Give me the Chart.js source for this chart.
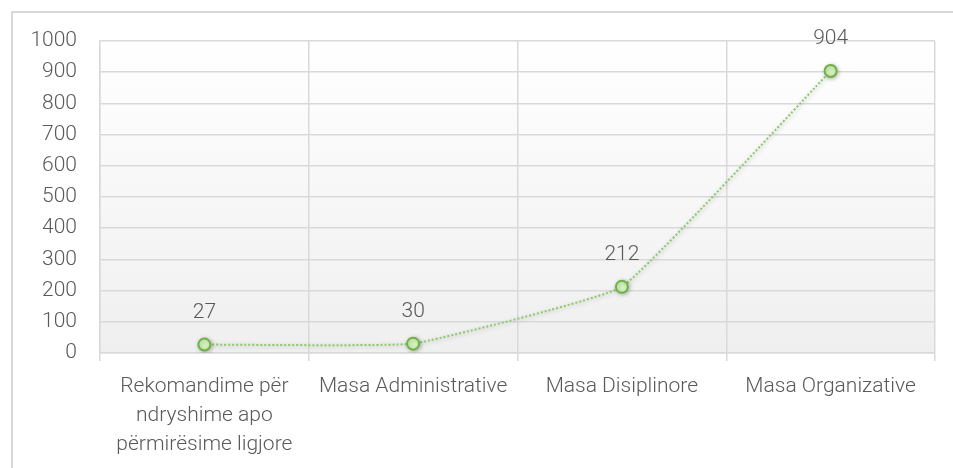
<!DOCTYPE html>
<html>
<head>
<meta charset="utf-8">
<script src="https://cdn.jsdelivr.net/npm/chart.js@4/dist/chart.umd.min.js"></script>
<style>
    html, body { margin: 0; padding: 0; background: #fff; overflow: hidden; }
    #frame {
        position: absolute; left: 11px; top: 11px;
        width: 1200px; height: 800px;
        border: 2px solid #d9d9d9; box-sizing: border-box;
    }
    #wrap { position: absolute; left: 0; top: 0; width: 953px; height: 468px; }
</style>
</head>
<body>
<div id="frame"></div>
<div id="wrap"><canvas id="chart"></canvas></div>
<script>
// chart data
const categories = [
    ['Rekomandime për', 'ndryshime apo', 'përmirësime ligjore'],
    'Masa Administrative',
    'Masa Disiplinore',
    'Masa Organizative'
];
const values = [27, 30, 212, 904];
const yTicks = [0, 100, 200, 300, 400, 500, 600, 700, 800, 900, 1000];

const FONT = 'Roboto, "Open Sans", sans-serif';
const TEXT = '#595959';
const SIZE = 21;

// grey-to-white fill behind the plot area
const plotBackground = {
    id: 'plotBackground',
    beforeDraw(chart) {
        const { ctx, chartArea: a } = chart;
        const g = ctx.createLinearGradient(0, a.top, 0, a.bottom);
        g.addColorStop(0, '#ffffff');
        g.addColorStop(1, '#efefef');
        ctx.save();
        ctx.fillStyle = g;
        ctx.fillRect(a.left, a.top, a.right - a.left, a.bottom - a.top);
        ctx.restore();
    }
};

// soft shadow under the series
const seriesShadow = {
    id: 'seriesShadow',
    beforeDatasetsDraw(chart) {
        const ctx = chart.ctx;
        ctx.save();
        ctx.shadowColor = 'rgba(0,0,0,0.25)';
        ctx.shadowBlur = 4;
        ctx.shadowOffsetX = 1;
        ctx.shadowOffsetY = 1;
    },
    afterDatasetsDraw(chart) {
        chart.ctx.restore();
    }
};

// value labels above each point
const valueLabels = {
    id: 'valueLabels',
    afterDatasetsDraw(chart) {
        const ctx = chart.ctx;
        ctx.save();
        ctx.font = '300 ' + SIZE + 'px ' + FONT;
        ctx.fillStyle = TEXT;
        ctx.textAlign = 'center';
        ctx.textBaseline = 'middle';
        chart.getDatasetMeta(0).data.forEach((pt, i) => {
            ctx.fillText(String(values[i]), pt.x, pt.y - 32);
        });
        ctx.restore();
    }
};

new Chart(document.getElementById('chart'), {
    type: 'line',
    data: {
        labels: categories,
        datasets: [{
            data: values,
            borderColor: '#8cc96a',
            borderWidth: 2,
            borderDash: [2, 2],
            tension: 0.1,
            pointRadius: 6,
            pointBackgroundColor: '#d5f5bf',
            pointBorderColor: '#6fb043',
            pointBorderWidth: 2
        }]
    },
    options: {
        responsive: true,
        maintainAspectRatio: false,
        animation: false,
        layout: { padding: { top: 41, right: 18, left: 0, bottom: 0 } },
        plugins: {
            legend: { display: false },
            tooltip: { enabled: false }
        },
        scales: {
            x: {
                offset: true,
                grid: {
                    color: '#d9d9d9',
                    lineWidth: 1.5,
                    offset: true,
                    tickLength: 8
                },
                border: { color: '#d9d9d9', width: 1.5 },
                ticks: {
                    color: TEXT,
                    font: { family: FONT, size: SIZE, weight: 300, lineHeight: 1.38 },
                    padding: 11,
                    maxRotation: 0,
                    autoSkip: false
                },
                afterFit(scale) { scale.height = 115; }
            },
            y: {
                min: 0,
                max: 1000,
                afterBuildTicks(scale) { scale.ticks = yTicks.map(v => ({ value: v })); },
                grid: {
                    color: '#d9d9d9',
                    lineWidth: 1.5,
                    drawTicks: false
                },
                border: { color: '#d9d9d9', width: 1.5 },
                ticks: {
                    color: TEXT,
                    font: { family: FONT, size: SIZE, weight: 300 },
                    padding: 23,
                    callback: v => String(v)
                },
                afterFit(scale) { scale.width = 100; }
            }
        }
    },
    plugins: [plotBackground, seriesShadow, valueLabels]
});
</script>
</body>
</html>
